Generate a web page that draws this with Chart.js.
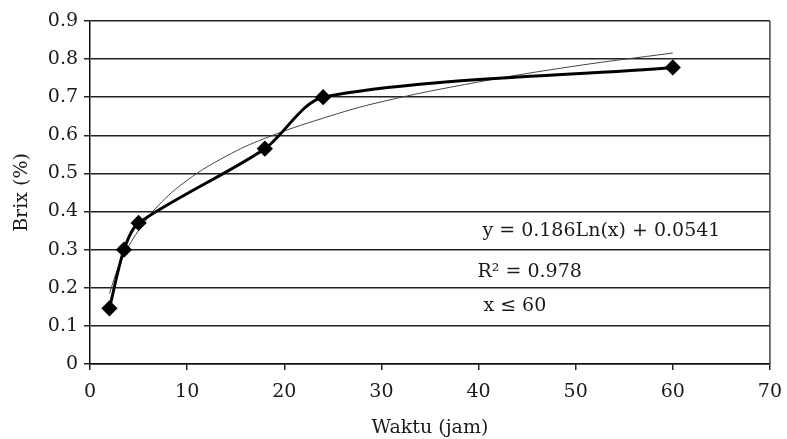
<!DOCTYPE html>
<html>
<head>
<meta charset="utf-8">
<script src="https://cdn.jsdelivr.net/npm/chart.js@4/dist/chart.umd.min.js"></script>
<style>
  html, body { margin: 0; padding: 0; background: #fff; }
  #wrap { width: 787px; height: 439px; }
</style>
</head>
<body>
<div id="wrap"><canvas id="brix-chart"></canvas></div>
<script>
// Measured Brix values over fermentation time (hours)
const waktuJam = [2, 3.5, 5, 18, 24, 60];
const brixPersen = [0.146, 0.30, 0.37, 0.565, 0.70, 0.778];

// Logarithmic trendline
const trendX = [2, 3, 4, 5, 7, 10, 14, 18, 24, 30, 40, 50, 60];
const trendY = [0.185, 0.26, 0.31, 0.35, 0.415, 0.482, 0.545, 0.592, 0.645, 0.688, 0.74, 0.782, 0.816];

const xTicks = [0, 10, 20, 30, 40, 50, 60, 70];
const yTicks = [0, 0.1, 0.2, 0.3, 0.4, 0.5, 0.6, 0.7, 0.8, 0.9];

const annotLines = ['y = 0.186Ln(x) + 0.0541', 'R\u00B2 = 0.978', 'x \u2264 60'];
const annotX = [40.4, 39.9, 40.5];
const annotY = [0.349, 0.242, 0.152];

const FONT = 'DejaVu Serif';
const INK = '#1a1a1a';

const toPoints = (xs, ys) => xs.map((x, i) => ({ x, y: ys[i] }));

// right frame edge + equation text
const extras = {
  id: 'extras',
  afterDatasetsDraw(chart) {
    const { ctx, chartArea, scales } = chart;
    ctx.save();
    ctx.strokeStyle = '#444';
    ctx.lineWidth = 1.5;
    ctx.beginPath();
    ctx.moveTo(chartArea.right, chartArea.top);
    ctx.lineTo(chartArea.right, chartArea.bottom);
    ctx.stroke();

    ctx.fillStyle = INK;
    ctx.font = '19px "' + FONT + '"';
    ctx.textAlign = 'left';
    ctx.textBaseline = 'middle';
    annotLines.forEach((t, i) => {
      ctx.fillText(t, scales.x.getPixelForValue(annotX[i]), scales.y.getPixelForValue(annotY[i]));
    });
    ctx.restore();
  },
};

new Chart(document.getElementById('brix-chart'), {
  type: 'line',
  data: {
    datasets: [
      {
        label: 'Brix',
        data: toPoints(waktuJam, brixPersen),
        borderColor: '#000',
        backgroundColor: '#000',
        borderWidth: 3,
        pointStyle: 'rectRot',
        pointRadius: 6,
        pointHoverRadius: 6,
        tension: 0.28,
      },
      {
        label: 'Trend',
        data: toPoints(trendX, trendY),
        borderColor: '#444',
        borderWidth: 1,
        pointRadius: 0,
        tension: 0.4,
      },
    ],
  },
  options: {
    responsive: true,
    maintainAspectRatio: false,
    animation: false,
    layout: { padding: { top: 21, right: 14, left: 7, bottom: 0 } },
    plugins: { legend: { display: false }, tooltip: { enabled: false } },
    scales: {
      x: {
        type: 'linear',
        min: 0,
        max: 70,
        afterBuildTicks: (axis) => { axis.ticks = xTicks.map(v => ({ value: v })); },
        ticks: { color: INK, font: { family: FONT, size: 19, lineHeight: 1.75 }, padding: 5 },
        grid: { drawOnChartArea: false, drawTicks: true, tickLength: 6, color: '#222', lineWidth: 1.5 },
        border: { color: '#111', width: 1.5 },
        title: { display: true, text: 'Waktu (jam)', color: INK, font: { family: FONT, size: 19 }, padding: { top: 3, bottom: 0 } },
      },
      y: {
        min: 0,
        max: 0.9,
        afterBuildTicks: (axis) => { axis.ticks = yTicks.map(v => ({ value: v })); },
        ticks: {
          color: INK,
          font: { family: FONT, size: 19 },
          padding: 6,
          callback: (v) => (v === 0 ? '0' : v.toFixed(1)),
        },
        grid: { color: '#222', lineWidth: 1.5, tickLength: 6 },
        border: { color: '#111', width: 1.5 },
        title: { display: true, text: 'Brix (%)', color: INK, font: { family: FONT, size: 19 }, padding: { bottom: 8 } },
      },
    },
  },
  plugins: [extras],
});
</script>
</body>
</html>
